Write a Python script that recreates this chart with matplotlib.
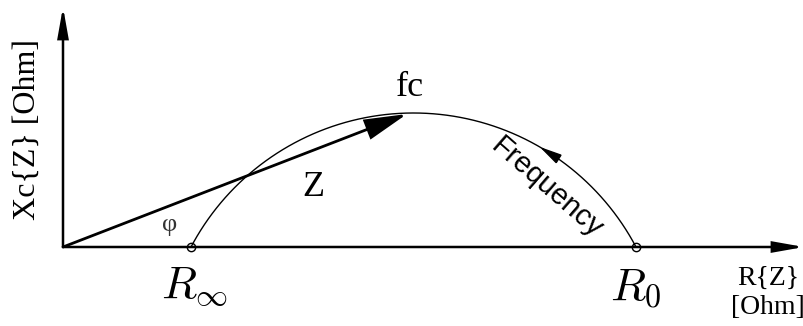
import numpy as np
import matplotlib
matplotlib.use("Agg")
import matplotlib.pyplot as plt
from matplotlib.patches import FancyArrowPatch

plt.rcParams['mathtext.fontset'] = 'cm'

# impedance locus values (arbitrary ohm units)
R_inf = 128.0
R_0 = 573.0
X_peak = 134.0          # reactance at the characteristic frequency
Z_tip = (344.0, 133.0)  # impedance vector drawn to fc
freq_at = 0.22          # fraction along the arc where the frequency arrow sits

x_max, y_max = 741.0, 240.0

# depressed semicircle through R_inf, R_0 with height X_peak
half = (R_0 - R_inf) / 2
r = (half**2 + X_peak**2) / (2 * X_peak)
cx, cy = (R_inf + R_0) / 2, X_peak - r
t0 = np.arctan2(0 - cy, R_0 - cx)
t1 = np.arctan2(0 - cy, R_inf - cx)
t = np.linspace(t0, t1, 400)
arc_x = cx + r * np.cos(t)
arc_y = cy + r * np.sin(t)

fig = plt.figure(figsize=(8.04, 3.26), dpi=100)
ax = fig.add_axes([0, 0, 1, 1])
ax.set_xlim(-63, 741)
ax.set_ylim(-79, 247)
ax.axis('off')


def arrow(p0, p1, lw, hl, hw, ms=20):
    ax.add_patch(FancyArrowPatch(p0, p1, arrowstyle=f'-|>,head_length={hl},head_width={hw}',
                                 mutation_scale=ms, lw=lw, color='black',
                                 shrinkA=0, shrinkB=0, joinstyle='miter'))


# axes
arrow((0, 0), (x_max, 0), 1.8, 0.9, 0.16)
arrow((0, 0), (0, y_max), 1.8, 0.9, 0.16)

# arc and end markers
ax.plot(arc_x, arc_y, color='black', lw=1.0)
ax.plot([R_inf, R_0], [0, 0], 'o', ms=6, mfc='none', mec='black', mew=1.0)

# impedance vector
arrow((0, 0), Z_tip, 2.0, 1.3, 0.32)

# frequency direction arrow along the arc
i = int(freq_at * len(t))
arrow((arc_x[i], arc_y[i]), (arc_x[i + 15], arc_y[i + 15]), 1.0, 0.7, 0.16)

serif = 'Liberation Serif'
ax.text(347, 159, 'fc', family=serif, fontsize=26, ha='center', va='center')
ax.text(250, 59, 'Z', family=serif, fontsize=26, ha='center', va='center')
ax.text(107, 22, 'φ', family=serif, fontsize=19, ha='center', va='center', color='#333333')
ax.text(484, 59, 'Frequency', family='Liberation Sans', fontsize=21,
        rotation=-41, ha='center', va='center', rotation_mode='anchor')
ax.text(R_inf + 4, -40, r'$R_\infty$', fontsize=33, ha='center', va='center')
ax.text(R_0, -40, r'$R_0$', fontsize=33, ha='center', va='center')
ax.text(705, -31, 'R{Z}', family=serif, fontsize=20, ha='center', va='center')
ax.text(705, -61, '[Ohm]', family=serif, fontsize=20, ha='center', va='center')
ax.text(-36, 118, 'Xc{Z} [Ohm]', family=serif, fontsize=23, rotation=90,
        ha='center', va='center')

fig.savefig('out.png', dpi=100)
